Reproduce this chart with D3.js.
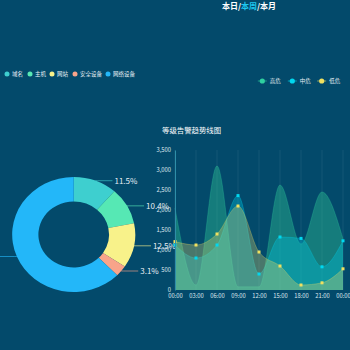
<!DOCTYPE html>
<html>
<head>
<meta charset="utf-8">
<script src="https://cdn.jsdelivr.net/npm/d3@7/dist/d3.min.js"></script>
<style>
  html, body { margin: 0; padding: 0; background: #034a6b; }
  svg { display: block; }
  text { font-family: "Noto Sans CJK SC", "Noto Sans", sans-serif; }
</style>
</head>
<body>
<svg id="chart" width="350" height="350"></svg>
<script>
// ---- data ----
const periodTabs = ["本日", "本周", "本月"];
const activeTab = "本周";

const assetTypes = ["域名", "主机", "网站", "安全设备", "网络设备"];
const assetShares = [11.5, 10.4, 12.5, 3.1, 62.5];
const assetColors = ["#3ecfcf", "#56e8b4", "#f8f28a", "#f8a48a", "#23b7f9"];

const trendTitle = "等级告警趋势线图";
const hours = ["00:00", "03:00", "06:00", "09:00", "12:00", "15:00", "18:00", "21:00", "00:00 "];
const levelNames = ["高危", "中危", "低危"];
const highValues = [2050, 125, 3100, 80, 80, 2625, 1150, 2450, 1280];
const midValues = [1125, 800, 1125, 2360, 400, 1325, 1290, 580, 1230];
const lowValues = [1210, 1125, 1400, 2100, 950, 600, 125, 180, 530];
const yTicks = [0, 500, 1000, 1500, 2000, 2500, 3000, 3500];

const levelColors = ["#2fd0a0", "#00d8f0", "#f0e060"];
const levelFills = ["rgba(50,200,150,0.40)", "rgba(0,200,230,0.35)", "rgba(235,225,110,0.30)"];

const svg = d3.select("#chart");

// ---- period switch ----
const tab = svg.append("text")
  .attr("x", 249).attr("y", 8.5)
  .attr("text-anchor", "middle")
  .attr("font-size", 8).attr("font-weight", "bold");
periodTabs.forEach((t, i) => {
  tab.append("tspan").attr("fill", t === activeTab ? "#1ec8f0" : "#ffffff").text(t);
  if (i < periodTabs.length - 1) tab.append("tspan").attr("fill", "#ffffff").text("/");
});

// ---- asset legend ----
const assetLegendX = [7, 30, 52, 75, 108];
const assetLegend = svg.append("g");
assetTypes.forEach((name, i) => {
  const g = assetLegend.append("g").attr("transform", `translate(${assetLegendX[i]},74)`);
  g.append("circle").attr("r", 2.5).attr("fill", assetColors[i]);
  g.append("text").attr("x", 5).attr("y", 2.1)
    .attr("font-size", 5.5).attr("fill", "#e8f0f6").text(name);
});

// ---- level legend ----
const levelLegendX = [262.3, 292.3, 321.7];
levelNames.forEach((name, i) => {
  const g = svg.append("g").attr("transform", `translate(${levelLegendX[i]},81)`);
  g.append("line").attr("x1", -4.5).attr("x2", 4.5)
    .attr("stroke", levelColors[i]).attr("stroke-width", 1).attr("opacity", 0.6);
  g.append("circle").attr("r", 2.6).attr("fill", levelColors[i]);
  g.append("text").attr("x", 7.5).attr("y", 2.1)
    .attr("font-size", 5.5).attr("fill", "#e8f0f6").text(name);
});

// ---- donut ----
const cx = 73.7, cy = 234.5, rOuter = 57.5, rInner = 33, sx = 1.07;
const pie = d3.pie().sort(null).value(d => d)(assetShares);
const arc = d3.arc().innerRadius(rInner).outerRadius(rOuter);
svg.append("g")
  .attr("transform", `translate(${cx},${cy}) scale(${sx},1)`)
  .selectAll("path").data(pie).join("path")
  .attr("d", arc)
  .attr("fill", (d, i) => assetColors[i]);

const total = d3.sum(assetShares);
pie.forEach((d, i) => {
  const a = (d.startAngle + d.endAngle) / 2;
  const x0 = cx + Math.sin(a) * rOuter * sx;
  const y0 = cy - Math.cos(a) * rOuter;
  const dir = Math.sin(a) >= 0 ? 1 : -1;
  const x1 = x0 + dir * 2;
  const x2 = x1 + dir * 15;
  svg.append("polyline")
    .attr("points", `${x0},${y0} ${x1},${y0} ${x2},${y0}`)
    .attr("fill", "none").attr("stroke", assetColors[i])
    .attr("stroke-width", 0.9).attr("opacity", 0.7);
  svg.append("text")
    .attr("x", x2 + dir * 2).attr("y", y0 + 2.8)
    .attr("text-anchor", dir > 0 ? "start" : "end")
    .attr("font-size", 8).attr("fill", "#e6eef4")
    .text((d.data / total * 100).toFixed(1) + "%");
});

// ---- trend chart ----
svg.append("text")
  .attr("x", 162).attr("y", 132.7)
  .attr("font-size", 7.4).attr("fill", "#ffffff").text(trendTitle);

const x = d3.scalePoint().domain(hours).range([175, 343]);
const y = d3.scaleLinear().domain([0, 3500]).range([290, 150]);

// vertical grid
svg.append("g").selectAll("line").data(hours).join("line")
  .attr("x1", d => x(d)).attr("x2", d => x(d))
  .attr("y1", y(3500)).attr("y2", y(0))
  .attr("stroke", "rgba(255,255,255,0.07)").attr("stroke-width", 1);

const area = d3.area().x((d, i) => x(hours[i])).y0(y(0)).y1(d => y(d)).curve(d3.curveMonotoneX);
const line = d3.line().x((d, i) => x(hours[i])).y(d => y(d)).curve(d3.curveMonotoneX);

const seriesData = [highValues, midValues, lowValues];
seriesData.forEach((vals, s) => {
  svg.append("path").attr("d", area(vals)).attr("fill", levelFills[s]);
  svg.append("path").attr("d", line(vals)).attr("fill", "none")
    .attr("stroke", levelColors[s]).attr("stroke-width", 0.8).attr("opacity", 0.35);
});
// point markers for 中危 / 低危
[1, 2].forEach(s => {
  svg.append("g").selectAll("rect").data(seriesData[s]).join("rect")
    .attr("x", (d, i) => x(hours[i]) - 1.5).attr("y", d => y(d) - 1.5)
    .attr("width", 3).attr("height", 3)
    .attr("fill", levelColors[s]);
});

// axes
const yAxis = svg.append("g").attr("transform", "translate(175,0)")
  .call(d3.axisLeft(y).tickValues(yTicks).tickSize(0).tickPadding(4).tickFormat(d3.format(",")));
yAxis.select(".domain").attr("stroke", "#2f8fa8").attr("stroke-width", 1);
yAxis.selectAll("text").attr("font-size", 5.8).attr("fill", "#dfe8ee")
  .attr("font-family", "'Noto Sans', sans-serif");

const xAxis = svg.append("g").attr("transform", "translate(0,290)")
  .call(d3.axisBottom(x).tickSize(0).tickPadding(4).tickFormat(d => d.trim()));
xAxis.select(".domain").remove();
xAxis.selectAll("text").attr("font-size", 5.8).attr("fill", "#dfe8ee")
  .attr("font-family", "'Noto Sans', sans-serif");
</script>
</body>
</html>
